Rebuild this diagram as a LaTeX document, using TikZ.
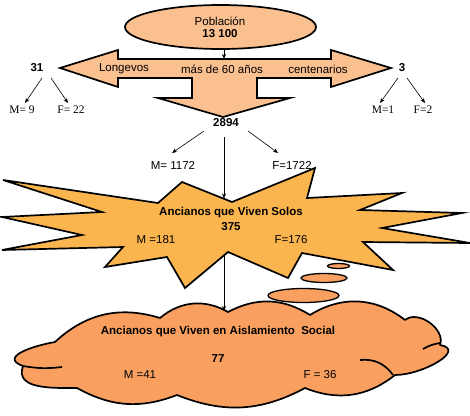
\documentclass[tikz,border=0pt]{standalone}
\usepackage{fontspec}
\setmainfont{Liberation Sans}
\newfontfamily\tnr{Liberation Serif}
\usetikzlibrary{shapes.geometric,arrows.meta}
\definecolor{peach}{HTML}{FAC08F}
\definecolor{starc}{HTML}{FBB54E}
\definecolor{cloudc}{HTML}{F9A060}
\begin{document}
\begin{tikzpicture}[x=1pt,y=-1pt,
  shapeline/.style={draw=black, line width=1.7pt, line join=miter},
  lbl/.style={inner sep=0pt, font=\fontsize{11.5}{13}\selectfont},
  blbl/.style={inner sep=0pt, font=\fontsize{11.5}{13}\selectfont\bfseries},
  slbl/.style={inner sep=0pt, font=\fontsize{11.5}{13}\selectfont\tnr},
  conn/.style={draw, line width=0.6pt, -{Stealth[length=5pt,width=4pt]}},
  bubble/.style={ellipse, shapeline, line width=1.3pt, fill=cloudc, inner sep=0pt},
]
\useasboundingbox (0,0) rectangle (470,415);

% population ellipse
\node[ellipse, shapeline, fill=peach, minimum width=191pt, minimum height=44pt, inner sep=0pt] (pob) at (220.5,27) {};
\node[lbl] (pobt) at (220,21) {Población};
\node[blbl] (pobn) at (220,33.5) {13 100};

% three-way arrow
\draw[shapeline, fill=peach] (60,68) -- (118,50) -- (118,59) -- (331,59) -- (331,50) -- (391,68)
  -- (331,87) -- (331,78) -- (257,78) -- (257,98) -- (290,98) -- (223,117) -- (158,98)
  -- (192,98) -- (192,78) -- (118,78) -- (118,87) -- cycle;
\coordinate (arrtop) at (224,59);
\draw[conn] (224,50) -- (arrtop);

\node[lbl] (longe) at (124,69) {Longevos};
\node[lbl] (mas) at (222,69) {más de 60 años};
\node[lbl] (cent) at (318,69) {centenarios};

% left branch
\node[blbl] (n31) at (37,68) {31};
\node[slbl] (m9) at (22,110) {M= 9};
\node[slbl] (f22) at (71,110) {F= 22};
\coordinate (s31a) at (42,78);
\coordinate (s31b) at (51,78);
\coordinate (t31a) at (25,103);
\coordinate (t31b) at (68,103);
\draw[conn] (s31a) -- (t31a);
\draw[conn] (s31b) -- (t31b);

% right branch
\node[blbl] (n3) at (402,68) {3};
\node[slbl] (m1) at (383,110) {M=1};
\node[slbl] (f2) at (423,110) {F=2};
\coordinate (s3a) at (398,78);
\coordinate (s3b) at (407,78);
\coordinate (t3a) at (380,103);
\coordinate (t3b) at (425,103);
\draw[conn] (s3a) -- (t3a);
\draw[conn] (s3b) -- (t3b);

% 2894
\node[blbl] (n2894) at (226,123) {2894};
\node[lbl] (m1172) at (173,165) {M= 1172};
\node[lbl] (f1722) at (292,165) {F=1722};
\coordinate (s28a) at (204,131);
\coordinate (s28b) at (248,131);
\coordinate (t28a) at (172,153);
\coordinate (t28b) at (278,153);
\draw[conn] (s28a) -- (t28a);
\draw[conn] (s28b) -- (t28b);

% starburst
\draw[shapeline, fill=starc] (182,182) -- (232,202) -- (315,168) -- (307,198) -- (402,193)
  -- (360,210) -- (462,213) -- (382,228) -- (470,243) -- (363,242) -- (393,270)
  -- (302,253) -- (288,278) -- (228,252) -- (185,288) -- (167,257) -- (105,267)
  -- (123,247) -- (2,250) -- (82,235) -- (2,217) -- (102,212) -- (3,180) -- (158,203) -- cycle;
\coordinate (startop) at (224,198.5);
\coordinate (starbot) at (224,254);
\coordinate (s28c) at (224,137);
\draw[conn] (s28c) -- (startop);

\node[blbl] (solos) at (231,212.5) {Ancianos que Viven Solos};
\node[blbl] (n375) at (231,227) {375};
\node[lbl] (m181) at (156,239.5) {M =181};
\node[lbl] (f176) at (291,239.5) {F=176};

% thought bubbles
\node[bubble, minimum width=22pt, minimum height=5pt] (b1) at (338.5,266) {};
\node[bubble, minimum width=46pt, minimum height=9pt] (b2) at (324,278) {};
\node[bubble, minimum width=71pt, minimum height=14pt] (b3) at (303.5,295.5) {};

% cloud
\draw[shapeline, fill=cloudc, line join=round] (55,342) to[bend left=30] (160,318) to[bend left=35] (228,312)
  to[bend left=30] (310,315) to[bend left=35] (405,320) to[bend left=75] (440,345)
  to[out=-10,in=0,looseness=1.3] (395,375) to[bend left=30] (305,388) to[bend left=25] (177,395)
  to[bend left=25] (77,388) to[out=180,in=-110,looseness=1.1] (23,366)
  to[out=160,in=190,looseness=1.6] (55,342) -- cycle;
\draw[shapeline] (23,366) to[bend right=8] (62,367);
\draw[shapeline] (360,360) to[bend left=30] (393,375);
\draw[shapeline] (423,349) to[bend left=10] (440,343);
\coordinate (cloudtop) at (224,311);
\draw[conn] (starbot) -- (cloudtop);

\node[blbl] (aisl) at (218,332) {Ancianos que Viven en Aislamiento\ \ Social};
\node[blbl] (n77) at (218,359) {77};
\node[lbl] (m41) at (140,374.5) {M =41};
\node[lbl] (f36) at (320,374.5) {F = 36};
\end{tikzpicture}
\end{document}
